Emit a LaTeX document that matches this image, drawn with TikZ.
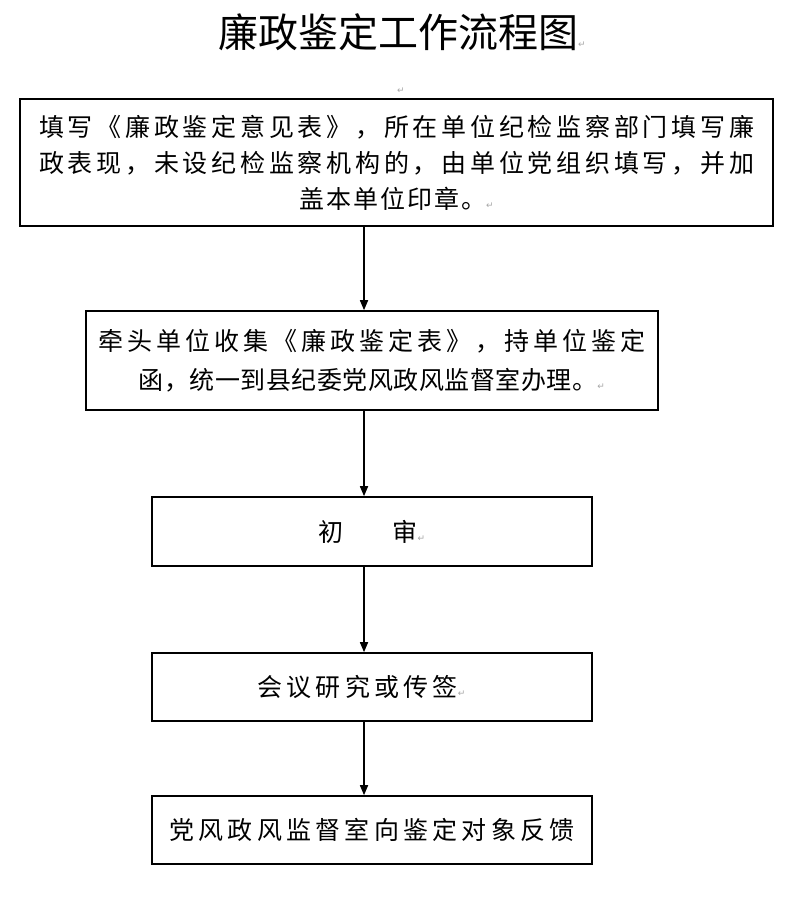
\documentclass[tikz,border=0pt]{standalone}
\usepackage{fontspec}
\setmainfont{Noto Sans CJK SC}
\newfontfamily\markfont{DejaVu Sans}
\usetikzlibrary{arrows.meta}

\newcommand{\parmark}{{\markfont\fontsize{9}{9}\selectfont\color{black!35}↵}}
\newcommand{\spread}[1]{\addfontfeature{LetterSpace=#1}}

\tikzset{
  stepbox/.style={draw, line width=1.6pt, inner sep=0pt, align=center,
    font=\fontsize{25}{36}\selectfont},
  flow/.style={line width=1.6pt, -{Triangle[width=8pt,length=10pt]}}
}

\begin{document}
\begin{tikzpicture}[x=1pt,y=-1pt]
\useasboundingbox (0,0) rectangle (800,912);
\coordinate (axis) at (364,0);
% title
\node (title) at (402,32) {\fontsize{40}{40}\selectfont 廉政鉴定工作流程图\parmark};
\node (mark) at (401,91) {\parmark};
% boxes
\node[stepbox, minimum width=753pt, minimum height=127pt] (fill) at (396.5,162.5)
  {{\spread{15}填写《廉政鉴定意见表》，所在单位纪检监察部门填写廉}\\
   {\spread{15}政表现，未设纪检监察机构的，由单位党组织填写，并加}\\
   {\spread{8}盖本单位印章。}\parmark};
\node[stepbox, minimum width=572pt, minimum height=99pt, font=\fontsize{25}{39}\selectfont] (collect) at (372,360.5)
  {{\spread{16}牵头单位收集《廉政鉴定表》，持单位鉴定}\\
   {\spread{2}函，统一到县纪委党风政风监督室办理。}\parmark};
\node[stepbox, minimum width=440pt, minimum height=69pt] (review) at (372,531.5)
  {初\hspace{49pt}审\parmark};
\node[stepbox, minimum width=440pt, minimum height=68pt] (meeting) at (372,687)
  {{\spread{17}会议研究或传签}\parmark\hspace*{21pt}};
\node[stepbox, minimum width=440pt, minimum height=68pt] (feedback) at (372,830)
  {{\spread{17}党风政风监督室向鉴定对象反馈}};
% connectors
\draw[flow] (fill.south -| axis) -- (collect.north -| axis);
\draw[flow] (collect.south -| axis) -- (review.north -| axis);
\draw[flow] (review.south -| axis) -- (meeting.north -| axis);
\draw[flow] (meeting.south -| axis) -- (feedback.north -| axis);
\end{tikzpicture}
\end{document}
